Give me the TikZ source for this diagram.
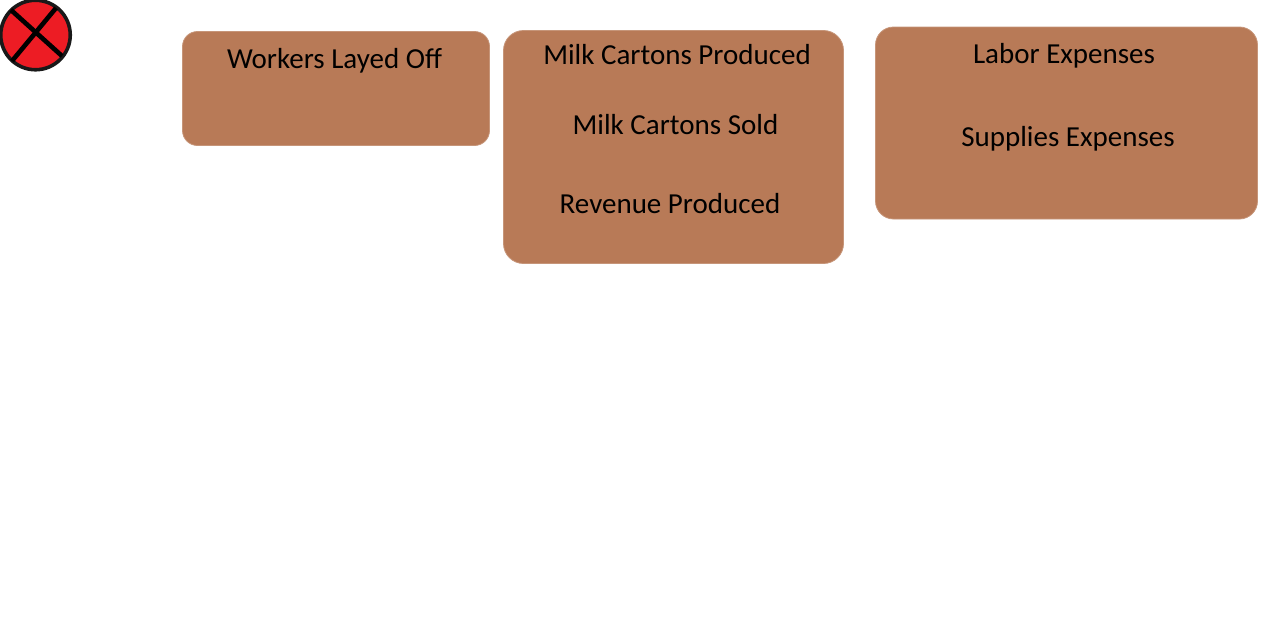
\documentclass[tikz,border=0pt]{standalone}
\usepackage{fontspec}
\setmainfont{Carlito}
\definecolor{boxbrown}{RGB}{184,122,87}
\definecolor{closered}{RGB}{237,28,36}
\begin{document}
\begin{tikzpicture}[x=1pt,y=-1pt,
      panel/.style={fill=boxbrown,draw=boxbrown!80!white,line width=.8pt,rounded corners=15pt},
      label/.style={font=\fontsize{29}{34}\selectfont,text=black,inner sep=0pt},
      closeline/.style={draw=black,line width=4.6pt}]
      \useasboundingbox (0,0) rectangle (1280,640);
      % close button
      \node[circle,draw=black!90,fill=closered,line width=3.6pt,minimum size=69.5pt,inner sep=0pt] (close) at (35.5,35) {};
      \coordinate (crossa) at (11,10);
      \coordinate (crossb) at (62,56);
      \coordinate (crossc) at (56,8);
      \coordinate (crossd) at (12,61);
      \draw[closeline] (crossa) -- (crossb);
      \draw[closeline] (crossc) -- (crossd);
      % panels
      \node[panel,minimum width=307pt,minimum height=114pt] (workers) at (336,88.5) {};
      \node[panel,minimum width=340pt,minimum height=233pt,rounded corners=20pt] (milk) at (673.5,147) {};
      \node[panel,minimum width=382pt,minimum height=192pt,rounded corners=18pt] (costs) at (1066.5,123) {};
      % texts
      \node[label] (laidoff) at (334.5,61) {Workers Layed Off};
      \node[label] (produced) at (677,54.5) {Milk Cartons Produced};
      \node[label] (sold) at (675.5,125) {Milk Cartons Sold};
      \node[label] (revenue) at (670,203.5) {Revenue Produced};
      \node[label] (labor) at (1064,56) {Labor Expenses};
      \node[label] (supplies) at (1068,139) {Supplies Expenses};
    \end{tikzpicture}
\end{document}
